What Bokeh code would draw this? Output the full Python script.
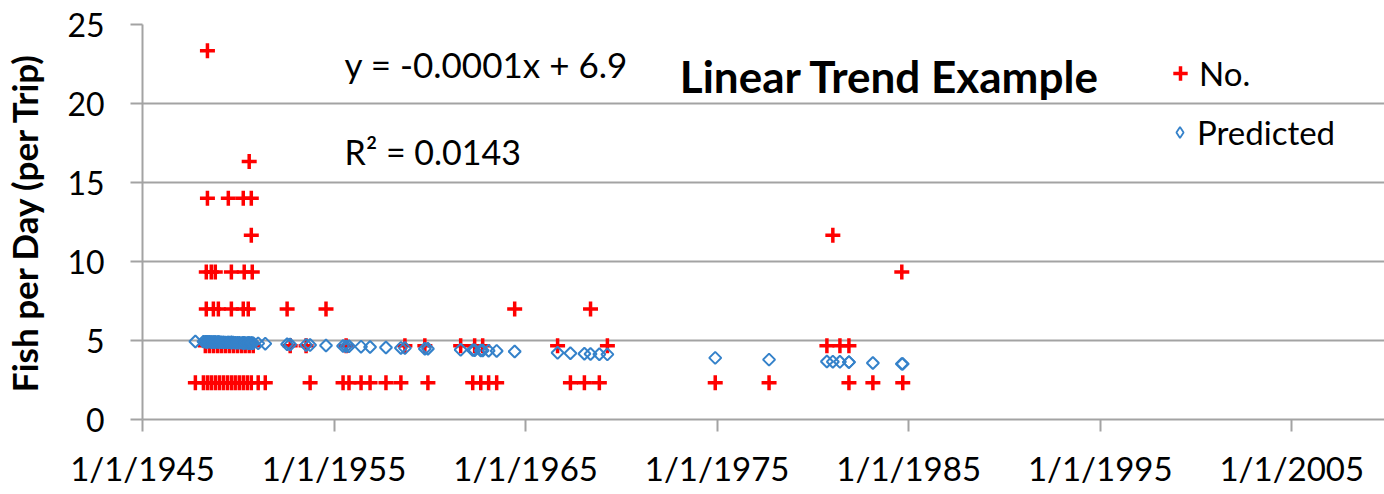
from bokeh.plotting import figure
from bokeh.models import FixedTicker, Label, Legend, LegendItem, ColumnDataSource, Range1d
from bokeh.embed import file_html
from bokeh.resources import INLINE
import math

# ---- data (decimal year, fish per day, linear-trend prediction) ----
years = [
    1947.76, 1948.18, 1948.28, 1948.33, 1948.33, 1948.39, 1948.39, 1948.39, 1948.49, 1948.59,
    1948.59, 1948.70, 1948.70, 1948.80, 1948.80, 1948.91, 1948.96, 1949.01, 1949.11, 1949.22,
    1949.32, 1949.43, 1949.48, 1949.53, 1949.64, 1949.64, 1949.64, 1949.74, 1949.84, 1949.95,
    1950.05, 1950.16, 1950.26, 1950.26, 1950.26, 1950.31, 1950.36, 1950.47, 1950.52, 1950.57,
    1950.57, 1950.68, 1950.68, 1950.68, 1950.73, 1950.78, 1951.04, 1951.41, 1952.55, 1952.71,
    1953.54, 1953.75, 1954.58, 1955.47, 1955.63, 1955.78, 1956.41, 1956.88, 1957.71, 1958.49,
    1958.70, 1959.74, 1959.90, 1961.61, 1962.24, 1962.34, 1962.66, 1962.76, 1963.07, 1963.49,
    1964.43, 1966.67, 1967.34, 1968.07, 1968.39, 1968.85, 1969.27, 1974.90, 1977.71, 1980.73,
    1981.04, 1981.41, 1981.88, 1981.88, 1983.13, 1984.64, 1984.69,
]
fish = [
    2.333, 2.333, 4.667, 7.0, 9.333, 2.333, 14.0, 23.333, 4.667, 2.333,
    9.333, 4.667, 7.0, 2.333, 9.333, 4.667, 7.0, 2.333, 4.667, 2.333,
    4.667, 2.333, 14.0, 4.667, 2.333, 7.0, 9.333, 4.667, 2.333, 4.667,
    2.333, 4.667, 2.333, 7.0, 14.0, 9.333, 4.667, 2.333, 7.0, 4.667,
    16.333, 2.333, 11.667, 14.0, 9.333, 4.667, 2.333, 2.333, 7.0, 4.667,
    4.667, 2.333, 7.0, 2.333, 4.667, 2.333, 2.333, 2.333, 2.333, 2.333,
    4.667, 4.667, 2.333, 4.667, 2.333, 4.667, 2.333, 4.667, 2.333, 2.333,
    7.0, 4.667, 2.333, 2.333, 7.0, 2.333, 4.667, 2.333, 2.333, 4.667,
    11.667, 4.667, 4.667, 2.333, 2.333, 9.333, 2.333,
]
predicted = [
    4.94, 4.93, 4.92, 4.92, 4.92, 4.92, 4.92, 4.92, 4.92, 4.91,
    4.91, 4.91, 4.91, 4.90, 4.90, 4.90, 4.90, 4.90, 4.89, 4.89,
    4.88, 4.88, 4.88, 4.88, 4.87, 4.87, 4.87, 4.87, 4.86, 4.86,
    4.86, 4.85, 4.85, 4.85, 4.85, 4.85, 4.84, 4.84, 4.84, 4.84,
    4.84, 4.83, 4.83, 4.83, 4.83, 4.83, 4.82, 4.80, 4.76, 4.75,
    4.72, 4.71, 4.68, 4.65, 4.64, 4.64, 4.61, 4.59, 4.56, 4.53,
    4.52, 4.48, 4.48, 4.41, 4.39, 4.38, 4.37, 4.37, 4.35, 4.34,
    4.30, 4.22, 4.19, 4.16, 4.15, 4.13, 4.12, 3.90, 3.79, 3.67,
    3.66, 3.65, 3.63, 3.63, 3.58, 3.52, 3.52,
]

x_ticks = [1945, 1955, 1965, 1975, 1985, 1995, 2005]
x_tick_labels = ["1/1/1945", "1/1/1955", "1/1/1965", "1/1/1975", "1/1/1985", "1/1/1995", "1/1/2005"]
y_ticks = [0, 5, 10, 15, 20, 25]

title_text = "Linear Trend Example"
equation_text = "y = -0.0001x + 6.9"
r2_text = "R\u00b2 = 0.0143"
series_names = ["No.", "Predicted"]
y_label = "Fish per Day (per Trip)"

FONT = "Lato"
GRID = "#A3A3A3"
RED = "#FF0000"
BLUE = "#3582CA"

src = ColumnDataSource(dict(year=years, fish=fish, pred=predicted))

p = figure(width=1384, height=494, output_backend="svg", toolbar_location=None,
           x_range=Range1d(1945, 2009.84), y_range=Range1d(0, 25),
           min_border_left=139, min_border_right=0, min_border_top=24, min_border_bottom=75)
p.outline_line_color = None
p.background_fill_color = "white"

r_obs = p.scatter("year", "fish", source=src, marker="cross", size=15,
                  line_color=RED, line_width=3.5)
r_pred = p.scatter("year", "pred", source=src, marker="square", size=8.5,
                   angle=math.pi / 4, fill_color=None, line_color=BLUE,
                   line_width=2)
# legend-only glyph (a single empty point) to show the diamond symbol in the key
key_src = ColumnDataSource(dict(x=[float("nan")], y=[float("nan")]))
r_key = p.scatter("x", "y", source=key_src, marker="diamond", size=11,
                  fill_color=None, line_color=BLUE, line_width=1.8)

# axes
p.xaxis.ticker = FixedTicker(ticks=x_ticks)
p.xaxis.major_label_overrides = {t: l for t, l in zip(x_ticks, x_tick_labels)}
p.yaxis.ticker = FixedTicker(ticks=y_ticks)
for ax in (p.xaxis, p.yaxis):
    ax.axis_line_color = GRID
    ax.axis_line_width = 2
    ax.major_tick_line_color = GRID
    ax.major_tick_line_width = 2
    ax.major_tick_out = 12
    ax.major_tick_in = 0
    ax.minor_tick_line_color = None
    ax.major_label_text_font = FONT
    ax.major_label_text_color = "black"
p.xaxis.major_label_text_font_size = "33px"
p.yaxis.major_label_text_font_size = "32px"
p.xaxis.major_label_standoff = 16
p.yaxis.major_label_standoff = 26
p.yaxis.axis_label = y_label
p.yaxis.axis_label_text_font = FONT
p.yaxis.axis_label_text_font_size = "35px"
p.yaxis.axis_label_text_font_style = "bold"
p.yaxis.axis_label_text_color = "black"
p.yaxis.axis_label_standoff = 19

p.xgrid.grid_line_color = None
p.ygrid.ticker = FixedTicker(ticks=y_ticks)
p.ygrid.grid_line_color = GRID
p.ygrid.grid_line_width = 2

# texts
p.add_layout(Label(x=1955.55, y=22.47, text=equation_text, text_font=FONT,
                   text_font_size="35px", text_color="black", text_baseline="middle"))
p.add_layout(Label(x=1955.55, y=16.96, text=r2_text, text_font=FONT,
                   text_font_size="34px", text_color="black", text_baseline="middle"))
p.add_layout(Label(x=1973.05, y=21.71, text=title_text, text_font=FONT,
                   text_font_size="44px", text_font_style="bold", text_color="black",
                   text_baseline="middle"))

# legends
common = dict(padding=0, margin=0, spacing=0, border_line_color=None,
              background_fill_alpha=0, label_text_font=FONT, label_text_font_size="33px",
              label_text_color="black", label_height=40)
leg1 = Legend(items=[LegendItem(label=series_names[0], renderers=[r_obs])],
              location=(1020, 326), glyph_width=36, glyph_height=40, label_standoff=1, **common)
leg2 = Legend(items=[LegendItem(label=series_names[1], renderers=[r_key])],
              location=(1024, 267), glyph_width=27, glyph_height=40, label_standoff=4, **common)
p.add_layout(leg1)
p.add_layout(leg2)

open("out.html", "w").write(file_html(p, INLINE))
